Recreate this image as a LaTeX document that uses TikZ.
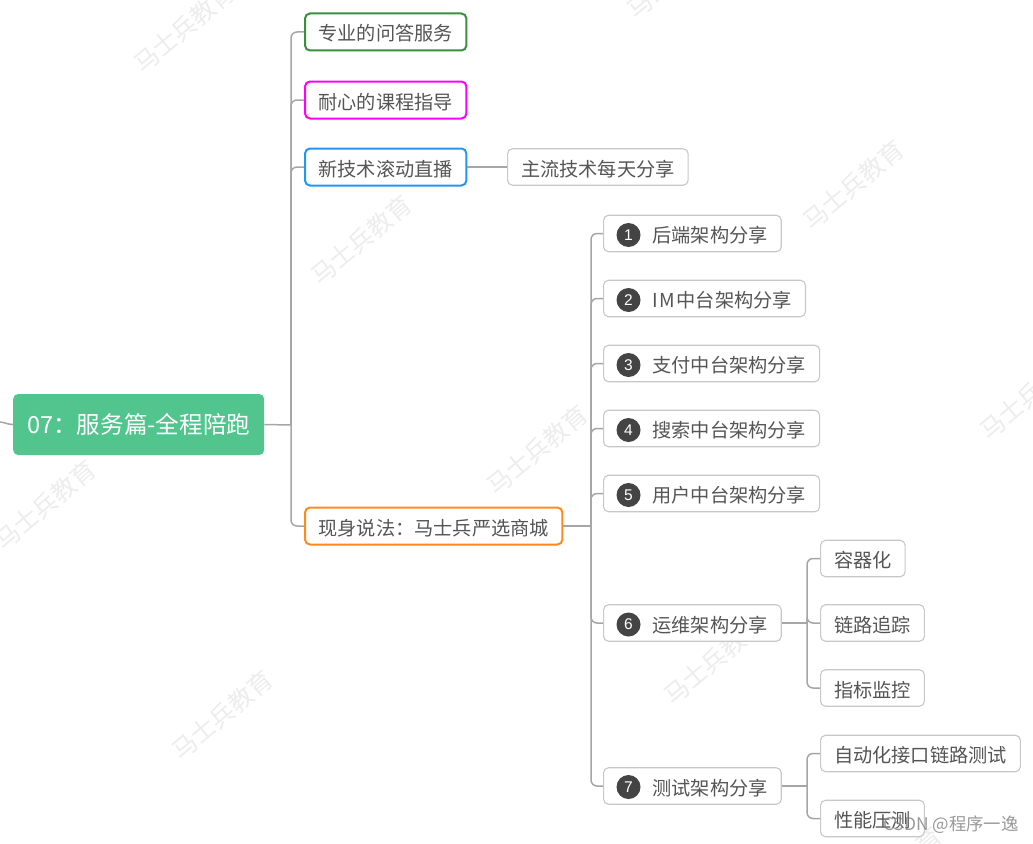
\documentclass[tikz,border=0pt]{standalone}
\usepackage{fontspec}
\setmainfont{Noto Sans CJK SC}
\newfontfamily\digitfont{Liberation Sans}
\definecolor{txt}{HTML}{555555}
\definecolor{linec}{HTML}{A6A6A6}
\definecolor{rootc}{HTML}{52C58E}
\definecolor{markc}{HTML}{EDEDED}
\definecolor{boxgray}{HTML}{C8C8C8}
\definecolor{numfill}{HTML}{444444}
\definecolor{cgreen}{HTML}{3A8F3E}
\definecolor{cmagenta}{RGB}{255,0,255}
\definecolor{cblue}{HTML}{2196F3}
\definecolor{corange}{HTML}{FF8A1E}
\tikzset{
  conn/.style={draw=linec,line width=1.5pt,rounded corners=6pt},
  basebox/.style={rectangle,rounded corners=5pt,anchor=west,text=txt,font=\fontsize{19.2pt}{22pt}\selectfont,
    inner xsep=13.5pt,inner ysep=0pt,text height=18pt,text depth=0pt},
  lone/.style={basebox,line width=2pt,fill=white,minimum height=37pt,inner xsep=13.5pt},
  ltwo/.style={basebox,draw=boxgray,line width=1.1pt,fill=white,minimum height=36.5pt},
  numc/.style={circle,fill=numfill,text=white,minimum size=24pt,inner sep=0pt,font=\digitfont\fontsize{15.5pt}{16pt}\selectfont},
  wmark/.style={text=markc,rotate=40,font=\fontsize{24.5pt}{28pt}\selectfont,inner sep=0pt}
}
\begin{document}
\begin{tikzpicture}[x=1pt,y=-1pt]
\clip (0,0) rectangle (1033,843);
\fill[white] (0,0) rectangle (1033,843);
% watermarks
\node[wmark] (w1) at (184,28) {马士兵教育};
\node[wmark] (w2) at (361,240) {马士兵教育};
\node[wmark] (w3) at (537,450) {马士兵教育};
\node[wmark] (w4) at (714,660) {马士兵教育};
\node[wmark] (w5) at (45,505) {马士兵教育};
\node[wmark] (w6) at (222,715) {马士兵教育};
\node[wmark] (w7) at (677,-26) {马士兵教育};
\node[wmark] (w8) at (853,185) {马士兵教育};
\node[wmark] (w9) at (1030,395) {马士兵教育};
\node[wmark] (w10) at (891,872) {马士兵教育};
% nodes
\node[anchor=west,rectangle,rounded corners=5pt,fill=rootc,text=white,minimum width=251pt,minimum height=61pt,inner sep=0pt,
  font=\fontsize{23.6pt}{26pt}\selectfont,text height=19pt,text depth=2pt] (root) at (13,424.5) {07：服务篇-全程陪跑};
\node[lone,draw=cgreen] (a) at (304,32) {专业的问答服务};
\node[lone,draw=cmagenta] (b) at (304,100) {耐心的课程指导};
\node[lone,draw=cblue] (c) at (304,167) {新技术滚动直播};
\node[lone,draw=corange] (d) at (304,526) {现身说法：马士兵严选商城};
\node[ltwo] (c1) at (507,167) {主流技术每天分享};
\node[ltwo] (n1) at (603,233.5) {\hspace*{35.5pt}后端架构分享};
\node[ltwo] (n2) at (603,298.5) {\hspace*{35.5pt}I\kern1pt M\kern2pt 中台架构分享};
\node[ltwo] (n3) at (603,363.5) {\hspace*{35.5pt}支付中台架构分享};
\node[ltwo] (n4) at (603,428.5) {\hspace*{35.5pt}搜索中台架构分享};
\node[ltwo] (n5) at (603,493.5) {\hspace*{35.5pt}用户中台架构分享};
\node[ltwo] (n6) at (603,623) {\hspace*{35.5pt}运维架构分享};
\node[ltwo] (n7) at (603,786) {\hspace*{35.5pt}测试架构分享};
\node[numc] (q1) at (628.5,235) {1};
\node[numc] (q2) at (628.5,300) {2};
\node[numc] (q3) at (628.5,365) {3};
\node[numc] (q4) at (628.5,430) {4};
\node[numc] (q5) at (628.5,495) {5};
\node[numc] (q6) at (628.5,624.5) {6};
\node[numc] (q7) at (628.5,787) {7};
\node[ltwo] (o1) at (820,558.5) {容器化};
\node[ltwo] (o2) at (820,623) {链路追踪};
\node[ltwo] (o3) at (820,688) {指标监控};
\node[ltwo] (p1) at (820,753.5) {自动化接口链路测试};
\node[ltwo] (p2) at (820,818.5) {性能压测};
% junctions
\coordinate (j0) at (291,425);
\coordinate (j1) at (591,526);
\coordinate (j2) at (807,623);
\coordinate (j3) at (807,786);
\coordinate (stub) at (0,422);
% connectors
\draw[conn] (stub) to[out=-5,in=180] (root.west);
\draw[conn] (root.east) -- (j0);
\foreach \t in {a,b,c,d} \draw[conn] (j0) |- (\t.west);
\draw[conn] (c.east) -- (c1.west);
\draw[conn] (d.east) -- (j1);
\foreach \t in {n1,n2,n3,n4,n5,n6,n7} \draw[conn] (j1) |- (\t.west);
\draw[conn] (n6.east) -- (j2);
\foreach \t in {o1,o2,o3} \draw[conn] (j2) |- (\t.west);
\draw[conn] (n7.east) -- (j3);
\foreach \t in {p1,p2} \draw[conn] (j3) |- (\t.west);
% credit
\node[anchor=west,inner sep=0pt,text=gray,opacity=0.8,font=\fontsize{17.4pt}{19pt}\selectfont] (credit) at (883,825) {CSDN @程序一逸};
\end{tikzpicture}
\end{document}
